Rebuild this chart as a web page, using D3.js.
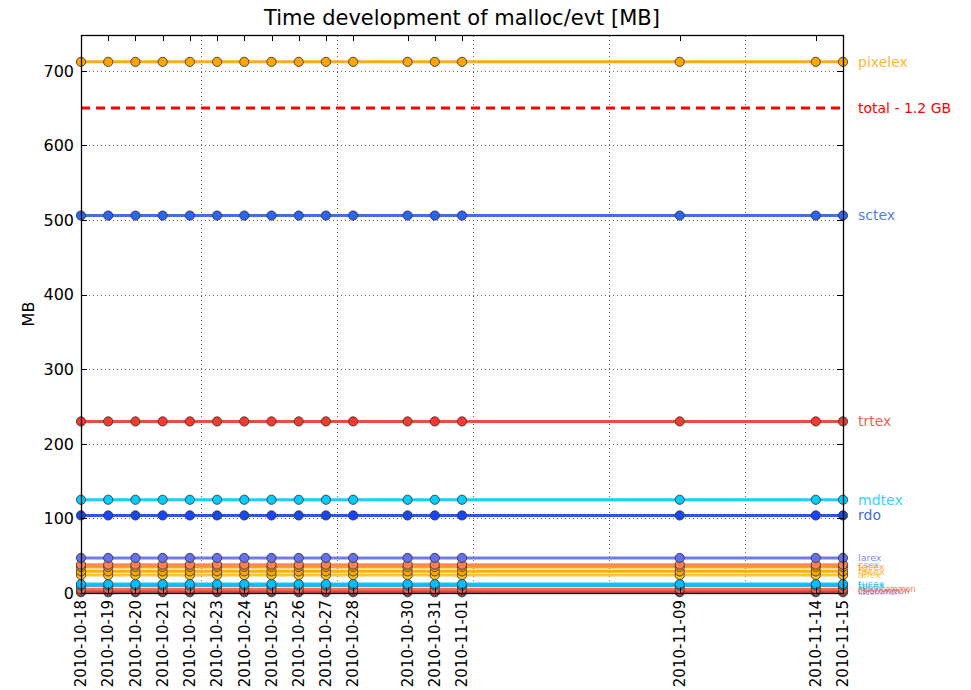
<!DOCTYPE html>
<html>
<head>
<meta charset="utf-8">
<script src="https://cdn.jsdelivr.net/npm/d3@7"></script>
<style>
  html, body { margin: 0; padding: 0; background: #fff; }
  svg { display: block; font-family: "DejaVu Sans", sans-serif; }
</style>
</head>
<body>
<svg id="chart" width="971" height="690"></svg>
<script>
// Build dates (nightly runs, afternoon)
const dates = [
  "2010-10-18", "2010-10-19", "2010-10-20", "2010-10-21", "2010-10-22",
  "2010-10-23", "2010-10-24", "2010-10-25", "2010-10-26", "2010-10-27",
  "2010-10-28", "2010-10-30", "2010-10-31", "2010-11-01", "2010-11-09",
  "2010-11-14", "2010-11-15"
];
const runTime = "14:00";

// Vertical grid positions (every 5 days)
const gridDates = ["2010-10-23", "2010-10-28", "2010-11-02", "2010-11-07", "2010-11-12"];

// Y axis ticks
const yTicks = [0, 100, 200, 300, 400, 500, 600, 700];
const yMax = 748;

// Series: malloc per event in MB (constant over the period)
const seriesNames  = ["pixelex", "sctex", "trtex", "mdtex", "rdo", "larex", "csex", "tgcex", "fpeex", "alfex", "tucex", "tpcex", "muoncommon", "calocommon", "idcommon"];
const seriesValues = [712, 506, 230, 125, 104, 47, 38, 35, 29, 24, 12, 10, 5, 2, 1];
const seriesColors = ["#ffa500", "#2b63f2", "#f03c2a", "#00ccff", "#1848e8", "#6470ee", "#ff7f50", "#ff9a00", "#ffa500", "#ffc020", "#00bfff", "#33a8cc", "#ff6040", "#d04040", "#8080ff"];

// Reference line
const totalLabel = "total - 1.2 GB";
const totalValue = 650;
const totalColor = "#ff0000";

const parseRun = d3.timeParse("%Y-%m-%d %H:%M");
const parseDay = d3.timeParse("%Y-%m-%d");
const runDates = dates.map(d => parseRun(d + " " + runTime));

const margin = { left: 81, right: 128, top: 35, bottom: 97 };
const W = 971, H = 690;
const svg = d3.select("#chart");

const x = d3.scaleTime()
  .domain(d3.extent(runDates))
  .range([margin.left, W - margin.right]);
const y = d3.scaleLinear()
  .domain([0, yMax])
  .range([H - margin.bottom, margin.top]);

const x0 = margin.left, x1 = W - margin.right;
const y0 = H - margin.bottom, y1 = margin.top;

// Grid
const grid = svg.append("g").attr("stroke", "#666").attr("stroke-width", 1)
  .attr("stroke-dasharray", "1,3");
grid.selectAll("line.h").data(yTicks).join("line")
  .attr("x1", x0).attr("x2", x1)
  .attr("y1", d => Math.round(y(d)) + 0.5).attr("y2", d => Math.round(y(d)) + 0.5);
grid.selectAll("line.v").data(gridDates.map(parseDay)).join("line")
  .attr("y1", y0).attr("y2", y1)
  .attr("x1", d => Math.round(x(d)) + 0.5).attr("x2", d => Math.round(x(d)) + 0.5);

// Series lines and markers
const series = seriesNames.map((name, i) => ({
  name, value: seriesValues[i], color: seriesColors[i]
})).reverse();

const line = d3.line().x(d => x(d.date)).y(d => y(d.v));

const plot = svg.append("g");
series.forEach(s => {
  const pts = runDates.map(date => ({ date, v: s.value }));
  const g = plot.append("g");
  g.append("path")
    .attr("d", line(pts))
    .attr("fill", "none")
    .attr("stroke", s.color)
    .attr("stroke-width", 3)
    .attr("stroke-opacity", 0.92);
  g.selectAll("circle").data(pts).join("circle")
    .attr("cx", d => x(d.date))
    .attr("cy", d => y(d.v))
    .attr("r", 4.6)
    .attr("fill", s.color)
    .attr("stroke", "#3a3a3a")
    .attr("stroke-width", 0.9);
});

// Total reference line
plot.append("path")
  .attr("d", line(runDates.map(date => ({ date, v: totalValue }))))
  .attr("fill", "none")
  .attr("stroke", totalColor)
  .attr("stroke-width", 3)
  .attr("stroke-dasharray", "9,6");

// Right-hand labels
const labels = svg.append("g");
series.forEach(s => {
  const fs = s.value >= 100 ? 14 : (s.value >= 8 ? 9.5 : 8);
  labels.append("text")
    .attr("x", 858)
    .attr("y", y(s.value))
    .attr("dy", "0.35em")
    .attr("font-size", fs)
    .attr("fill", s.color)
    .attr("fill-opacity", 0.85)
    .text(s.name);
});
labels.append("text")
  .attr("x", 858)
  .attr("y", y(totalValue))
  .attr("dy", "0.35em")
  .attr("font-size", 14)
  .attr("fill", totalColor)
  .text(totalLabel);

// Frame
svg.append("rect")
  .attr("x", x0 + 0.5).attr("y", y1 + 0.5)
  .attr("width", x1 - x0).attr("height", y0 - y1)
  .attr("fill", "none").attr("stroke", "#000").attr("stroke-width", 1.3);

// Ticks (inward, all sides)
const ticks = svg.append("g").attr("stroke", "#000").attr("stroke-width", 1);
yTicks.forEach(t => {
  const yy = Math.round(y(t)) + 0.5;
  ticks.append("line").attr("x1", x0).attr("x2", x0 + 6).attr("y1", yy).attr("y2", yy);
  ticks.append("line").attr("x1", x1).attr("x2", x1 - 6).attr("y1", yy).attr("y2", yy);
});
runDates.forEach(d => {
  const xx = Math.round(x(d)) + 0.5;
  ticks.append("line").attr("x1", xx).attr("x2", xx).attr("y1", y0).attr("y2", y0 - 6);
  ticks.append("line").attr("x1", xx).attr("x2", xx).attr("y1", y1).attr("y2", y1 + 6);
});

// Y tick labels
svg.append("g").selectAll("text").data(yTicks).join("text")
  .attr("x", x0 - 7)
  .attr("y", d => y(d))
  .attr("dy", "0.36em")
  .attr("text-anchor", "end")
  .attr("font-size", 16)
  .attr("fill", "#000")
  .text(d => d);

// X tick labels (rotated)
const fmt = d3.timeFormat("%Y-%m-%d");
svg.append("g").selectAll("text").data(runDates).join("text")
  .attr("transform", d => `translate(${x(d)},${y0 + 7}) rotate(-90)`)
  .attr("dy", "0.35em")
  .attr("text-anchor", "end")
  .attr("font-size", 15)
  .attr("fill", "#000")
  .text(d => fmt(d));

// Axis title and chart title
svg.append("text")
  .attr("transform", `translate(34,${(y0 + y1) / 2}) rotate(-90)`)
  .attr("text-anchor", "middle")
  .attr("font-size", 16)
  .text("MB");

svg.append("text")
  .attr("x", (x0 + x1) / 2)
  .attr("y", 25)
  .attr("text-anchor", "middle")
  .attr("font-size", 21)
  .text("Time development of malloc/evt [MB]");
</script>
</body>
</html>
